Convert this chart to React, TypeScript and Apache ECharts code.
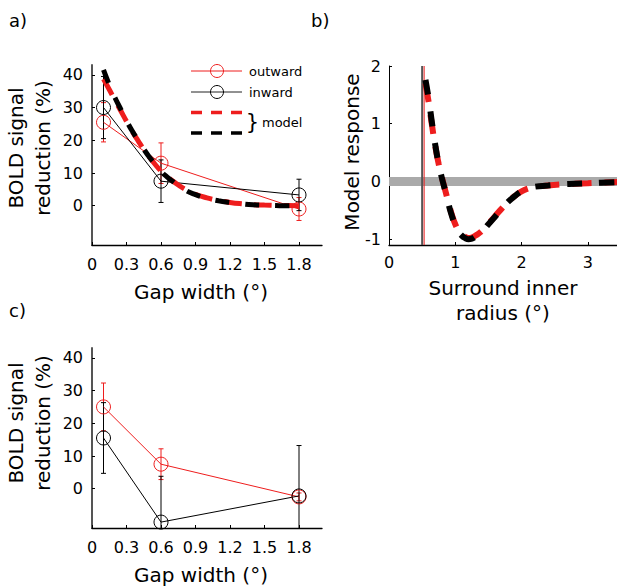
import React, { useEffect, useRef } from "react";
import * as echarts from "echarts";

// ---------- data ----------
const gapX = [0.1, 0.6, 1.8];

// panel a
const outwardA = [25.5, 13, -1];
const outwardErrA = [6, 6.2, 3.5];
const inwardA = [30, 7.5, 3.3];
const inwardErrA = [9.5, 6.5, 4.8];

const modelXA = [0.1, 0.15, 0.2, 0.25, 0.3, 0.35, 0.4, 0.45, 0.5, 0.55, 0.6, 0.65, 0.7, 0.8, 0.9, 1.0, 1.1, 1.2, 1.3, 1.4, 1.5, 1.6, 1.7, 1.8];
const modelOutA = [38.7, 35.5, 32.2, 29, 25.8, 22.7, 19.9, 17.2, 14.8, 12.6, 10.6, 9.0, 7.6, 5.2, 3.5, 2.4, 1.6, 1.0, 0.6, 0.35, 0.2, 0.1, 0.05, 0];
const modelInA = [41.5, 37, 33, 29.5, 26, 22.8, 20, 17.3, 14.8, 12.6, 10.5, 8.9, 7.5, 5.0, 3.4, 2.3, 1.5, 1.0, 0.6, 0.3, 0.15, 0.05, 0, 0];

// panel b
const radiusX = [0.55, 0.6, 0.65, 0.7, 0.75, 0.8, 0.85, 0.9, 0.95, 1.0, 1.05, 1.1, 1.15, 1.2, 1.25, 1.3, 1.4, 1.5, 1.6, 1.7, 1.8, 1.9, 2.0, 2.1, 2.2, 2.4, 2.6, 2.8, 3.0, 3.2, 3.45];
const modelOutB = [1.7, 1.36, 0.96, 0.6, 0.3, 0.06, -0.16, -0.38, -0.58, -0.74, -0.85, -0.92, -0.96, -0.98, -0.97, -0.94, -0.86, -0.73, -0.6, -0.47, -0.35, -0.25, -0.17, -0.12, -0.09, -0.07, -0.05, -0.04, -0.03, -0.02, -0.01];
const modelInB = [1.76, 1.42, 1.0, 0.62, 0.3, 0.05, -0.17, -0.4, -0.6, -0.76, -0.87, -0.94, -0.98, -1.0, -0.99, -0.96, -0.87, -0.74, -0.61, -0.48, -0.35, -0.25, -0.17, -0.12, -0.09, -0.07, -0.05, -0.04, -0.03, -0.02, -0.01];
const baselineX = [0, 3.5];
const innerEdgeBlack = 0.5;
const innerEdgeRed = 0.53;

// panel c
const outwardC = [25, 7.5, -2.5];
const outwardErrC = [7.3, 4.7, 1.2];
const inwardC = [15.5, -10.2, -2.2];
const inwardErrC = [10.8, 14, 15.4];

// ticks / ranges
const gapTicks = [0, 0.3, 0.6, 0.9, 1.2, 1.5, 1.8];
const boldTicks = [0, 10, 20, 30, 40];
const radiusTicks = [0, 1, 2, 3];
const responseTicks = [-1, 0, 1, 2];
const gapRange = [0, 2];
const boldRange = [-12, 43];
const radiusRange = [0, 3.5];
const responseRange = [-1.1, 2];

// ---------- styling ----------
const FONT = "DejaVu Sans";
const RED = "#ee1d1d";
const BLACK = "#000000";

function xAxis(gridIndex: number, range: number[], ticks: number[], margin: number) {
  return {
    type: "value",
    gridIndex,
    min: range[0],
    max: range[1],
    axisLine: { show: true, onZero: false, lineStyle: { color: "#000", width: 1.3 } },
    axisTick: { show: true, inside: true, length: 3, customValues: ticks, lineStyle: { color: "#000", width: 1 } },
    axisLabel: {
      show: true,
      customValues: ticks,
      margin,
      color: "#000",
      fontSize: 16,
      fontFamily: FONT,
      formatter: (v: number) => String(v),
    },
    splitLine: { show: false },
  };
}

function yAxis(gridIndex: number, range: number[], ticks: number[], lineColor: string, lineWidth: number, margin: number) {
  return {
    type: "value",
    gridIndex,
    min: range[0],
    max: range[1],
    axisLine: { show: true, onZero: false, lineStyle: { color: lineColor, width: lineWidth } },
    axisTick: { show: true, inside: true, length: 3, customValues: ticks, lineStyle: { color: "#000", width: 1 } },
    axisLabel: {
      show: true,
      customValues: ticks,
      margin,
      color: "#000",
      fontSize: 16,
      fontFamily: FONT,
      formatter: (v: number) => String(v),
    },
    splitLine: { show: false },
  };
}

function errorSeries(idx: number, vals: number[], errs: number[], color: string) {
  return {
    type: "custom",
    xAxisIndex: idx,
    yAxisIndex: idx,
    encode: { x: 0, y: 1 },
    data: gapX.map((x, i) => [x, vals[i], errs[i]]),
    renderItem: (params: any, api: any) => {
      const x = api.value(0);
      const y = api.value(1);
      const e = api.value(2);
      const top = api.coord([x, y + e]);
      const bot = api.coord([x, y - e]);
      const cs = params.coordSys;
      const yMin = cs.y;
      const yMax = cs.y + cs.height;
      const t = Math.max(top[1], yMin);
      const b = Math.min(bot[1], yMax);
      const style = { stroke: color, lineWidth: 1 };
      const children: any[] = [
        { type: "line", shape: { x1: top[0], y1: t, x2: top[0], y2: b }, style },
      ];
      if (top[1] >= yMin) children.push({ type: "line", shape: { x1: top[0] - 2.5, y1: top[1], x2: top[0] + 2.5, y2: top[1] }, style });
      if (bot[1] <= yMax) children.push({ type: "line", shape: { x1: bot[0] - 2.5, y1: bot[1], x2: bot[0] + 2.5, y2: bot[1] }, style });
      return { type: "group", children };
    },
    silent: true,
  };
}

function dataSeries(idx: number, vals: number[], color: string) {
  return {
    type: "line",
    xAxisIndex: idx,
    yAxisIndex: idx,
    data: gapX.map((x, i) => [x, vals[i]]),
    symbol: "circle",
    symbolSize: 14,
    itemStyle: { color: "rgba(0,0,0,0)", borderColor: color, borderWidth: 1 },
    lineStyle: { color, width: 1 },
    silent: true,
  };
}

function modelSeries(idx: number, xs: number[], ys: number[], color: string, width: number, dash: number[]) {
  return {
    type: "line",
    xAxisIndex: idx,
    yAxisIndex: idx,
    data: xs.map((x, i) => [x, ys[i]]),
    showSymbol: false,
    symbol: "none",
    smooth: true,
    lineStyle: { color, width, type: dash, dashOffset: 0, cap: "butt" },
    silent: true,
  };
}

function txt(text: string, x: number, y: number, size: number, opts: any = {}) {
  return {
    type: "text",
    x,
    y,
    rotation: opts.rotation || 0,
    silent: true,
    style: {
      text,
      fill: "#000",
      fontSize: size,
      fontFamily: FONT,
      align: opts.align || "left",
      textAlign: opts.align || "left",
      verticalAlign: "middle",
      textVerticalAlign: "middle",
      lineHeight: opts.lineHeight || size * 1.2,
    },
  };
}

export default function App() {
  const ref = useRef<HTMLDivElement>(null);

  useEffect(() => {
    if (!ref.current) return;
    const chart = echarts.init(ref.current, null, { renderer: "svg" });

    const option: any = {
      animation: false,
      backgroundColor: "#fff",
      grid: [
        { left: 92, top: 65, width: 230, height: 180, containLabel: false, outerBoundsMode: "none" },
        { left: 389, top: 66, width: 232, height: 179, containLabel: false, outerBoundsMode: "none" },
        { left: 92, top: 348, width: 230, height: 180, containLabel: false, outerBoundsMode: "none" },
      ],
      xAxis: [
        xAxis(0, gapRange, gapTicks, 11),
        xAxis(1, radiusRange, radiusTicks, 9),
        xAxis(2, gapRange, gapTicks, 11),
      ],
      yAxis: [
        yAxis(0, boldRange, boldTicks, "#555", 2, 9),
        yAxis(1, responseRange, responseTicks, "#000", 1, 8),
        yAxis(2, boldRange, boldTicks, "#555", 2, 9),
      ],
      series: [
        // panel a
        errorSeries(0, outwardA, outwardErrA, RED),
        errorSeries(0, inwardA, inwardErrA, BLACK),
        dataSeries(0, outwardA, RED),
        dataSeries(0, inwardA, BLACK),
        modelSeries(0, modelXA, modelOutA, RED, 5, [18, 12]),
        modelSeries(0, modelXA, modelInA, BLACK, 5, [14, 16]),
        // panel b
        {
          type: "line",
          xAxisIndex: 1,
          yAxisIndex: 1,
          data: baselineX.map((x) => [x, 0]),
          symbol: "none",
          lineStyle: { color: "#aaaaaa", width: 9, cap: "butt" },
          silent: true,
        },
        {
          type: "line",
          xAxisIndex: 1,
          yAxisIndex: 1,
          data: responseRange.map((y) => [innerEdgeBlack, y]),
          symbol: "none",
          lineStyle: { color: "#555", width: 2 },
          silent: true,
        },
        {
          type: "line",
          xAxisIndex: 1,
          yAxisIndex: 1,
          data: responseRange.map((y) => [innerEdgeRed, y]),
          symbol: "none",
          lineStyle: { color: RED, width: 1 },
          silent: true,
        },
        modelSeries(1, radiusX, modelOutB, RED, 6, [19, 13]),
        modelSeries(1, radiusX, modelInB, BLACK, 6, [15, 17]),
        // panel c
        errorSeries(2, outwardC, outwardErrC, RED),
        errorSeries(2, inwardC, inwardErrC, BLACK),
        dataSeries(2, outwardC, RED),
        dataSeries(2, inwardC, BLACK),
      ],
      graphic: [
        // panel labels
        txt("a)", 9, 20, 18),
        txt("b)", 311, 20, 18),
        txt("c)", 9, 310, 18),
        // axis titles
        txt("BOLD signal\nreduction (%)", 29, 148, 20, { rotation: Math.PI / 2, align: "center", lineHeight: 27 }),
        txt("Gap width (°)", 201, 292, 20, { align: "center" }),
        txt("Model response", 352, 152, 20, { rotation: Math.PI / 2, align: "center" }),
        txt("Surround inner\nradius (°)", 503, 300, 20, { align: "center", lineHeight: 25 }),
        txt("BOLD signal\nreduction (%)", 29, 423, 20, { rotation: Math.PI / 2, align: "center", lineHeight: 27 }),
        txt("Gap width (°)", 201, 575, 20, { align: "center" }),
        // legend (panel a)
        { type: "line", silent: true, shape: { x1: 191, y1: 71, x2: 242, y2: 71 }, style: { stroke: RED, lineWidth: 1 } },
        { type: "circle", silent: true, shape: { cx: 217, cy: 71, r: 6.5 }, style: { fill: "none", stroke: RED, lineWidth: 1 } },
        txt("outward", 249, 71, 13),
        { type: "line", silent: true, shape: { x1: 191, y1: 92, x2: 242, y2: 92 }, style: { stroke: "#222", lineWidth: 1 } },
        { type: "circle", silent: true, shape: { cx: 217, cy: 92, r: 6.5 }, style: { fill: "none", stroke: BLACK, lineWidth: 1 } },
        txt("inward", 249, 92, 13),
        { type: "line", silent: true, shape: { x1: 191, y1: 112.5, x2: 242, y2: 112.5 }, style: { stroke: RED, lineWidth: 3.5, lineDash: [11, 9] } },
        { type: "line", silent: true, shape: { x1: 191, y1: 133, x2: 242, y2: 133 }, style: { stroke: BLACK, lineWidth: 3.5, lineDash: [11, 9] } },
        txt("}", 259, 122, 21, { align: "right" }),
        txt("model", 262, 122, 13),
      ],
    };

    chart.setOption(option);
    return () => chart.dispose();
  }, []);

  return (
    <div
      ref={ref}
      style={{ position: "fixed", left: 0, top: 0, width: 617, height: 586, background: "#fff" }}
    />
  );
}
